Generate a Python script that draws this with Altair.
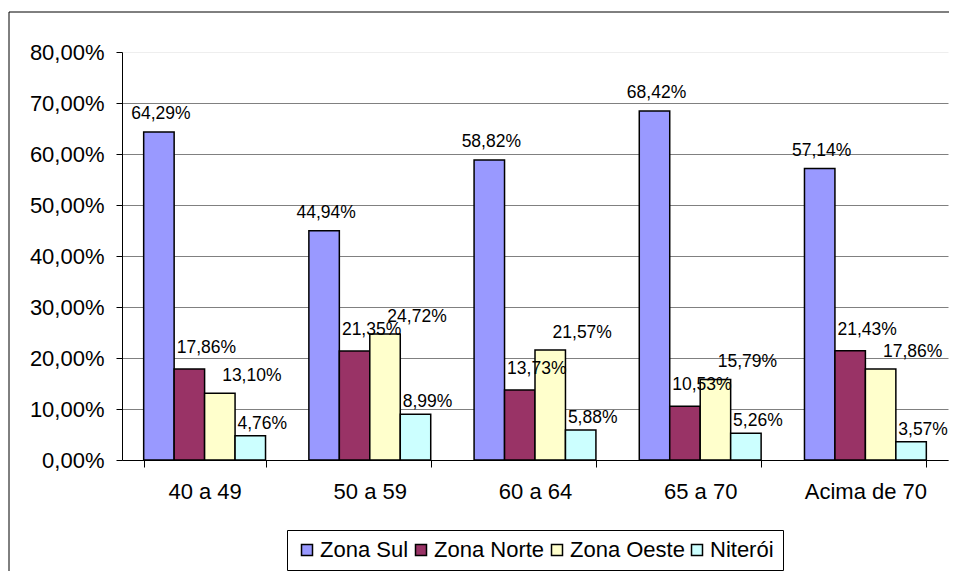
import altair as alt
import pandas as pd

# ---- data ----
categories = ["40 a 49", "50 a 59", "60 a 64", "65 a 70", "Acima de 70"]
series = ["Zona Sul", "Zona Norte", "Zona Oeste", "Niterói"]
zona_sul = [64.29, 44.94, 58.82, 68.42, 57.14]
zona_norte = [17.86, 21.35, 13.73, 10.53, 21.43]
zona_oeste = [13.10, 24.72, 21.57, 15.79, 17.86]
niteroi = [4.76, 8.99, 5.88, 5.26, 3.57]
y_ticks = [0, 10, 20, 30, 40, 50, 60, 70, 80]
colors = ["#9999FF", "#993366", "#FFFFCC", "#CCFFFF"]

rows = []
for s, vals in zip(series, [zona_sul, zona_norte, zona_oeste, niteroi]):
    for c, v in zip(categories, vals):
        rows.append({"faixa": c, "zona": s, "valor": v})
df = pd.DataFrame(rows)

FONT = "Liberation Sans"
W, H = 826, 408
PAD_R = 1

label_dx = {"Zona Sul": 2, "Zona Norte": 17, "Zona Oeste": 32, "Niterói": 12}
label_dy = {"Zona Sul": -18, "Zona Norte": -21, "Zona Oeste": -17, "Niterói": -12}

x_enc = alt.X(
    "faixa:N",
    sort=categories,
    scale=alt.Scale(domain=categories, paddingInner=0.2624, paddingOuter=0.1312),
    axis=alt.Axis(
        title=None, labelAngle=0, tickBand="extent", grid=False,
        domainColor="#000000", tickColor="#000000", tickSize=7,
        labelFont=FONT, labelFontSize=22, labelColor="#000000",
        labelBaseline="alphabetic", labelPadding=31,
    ),
)
xo_enc = alt.XOffset(
    "zona:N", sort=series,
    scale=alt.Scale(domain=series, paddingInner=0, paddingOuter=0),
)
y_enc = alt.Y(
    "valor:Q",
    scale=alt.Scale(domain=[0, 80], nice=False),
    axis=alt.Axis(
        title=None, values=y_ticks,
        labelExpr="replace(format(datum.value/100, '.2%'), '.', ',')",
        grid=True, gridWidth=1,
        gridColor={"condition": {"test": "datum.value >= 80", "value": "#eeeeee"},
                   "value": "#808080"},
        domainColor="#000000", tickColor="#000000", tickSize=6,
        labelFont=FONT, labelFontSize=22, labelColor="#000000", labelPadding=12,
    ),
)

one = pd.DataFrame({"k": [0]})
frame_top = alt.Chart(one).mark_rule(color="#000000", strokeWidth=1).encode(
    x=alt.value(-113), x2=alt.value(W + PAD_R), y=alt.value(-40),
)
frame_left = alt.Chart(one).mark_rule(color="#000000", strokeWidth=1).encode(
    x=alt.value(-113), y=alt.value(-40), y2=alt.value(H + 111),
)

bars = alt.Chart(df).mark_bar(stroke="#000000", strokeWidth=1.5).encode(
    x=x_enc,
    xOffset=xo_enc,
    y=y_enc,
    fill=alt.Fill(
        "zona:N", sort=series,
        scale=alt.Scale(domain=series, range=colors),
        legend=alt.Legend(
            title=None, orient="none", legendX=165, legendY=478,
            direction="horizontal", symbolType="square", symbolSize=121,
            symbolStrokeColor="#000000", symbolStrokeWidth=1.5, symbolOpacity=1,
            labelFont=FONT, labelFontSize=22, labelColor="#000000",
            labelOffset=2, columnPadding=1, padding=9,
            strokeColor="#000000", fillColor="#ffffff",
        ),
    ),
)

text_layers = []
for s in series:
    t = alt.Chart(df).transform_filter(
        alt.datum.zona == s
    ).transform_calculate(
        label="replace(format(datum.valor/100, '.2%'), '.', ',')"
    ).mark_text(
        dx=label_dx[s], dy=label_dy[s], font=FONT, fontSize=17.5,
        color="#000000", baseline="middle", align="center",
    ).encode(
        x=x_enc, xOffset=xo_enc, y=y_enc, text="label:N",
    )
    text_layers.append(t)

chart = alt.layer(frame_top, frame_left, bars, *text_layers).properties(
    width=W, height=H,
    padding={"left": 114, "top": 44, "right": PAD_R, "bottom": 111},
    autosize="none",
    background="#ffffff",
).configure_view(strokeWidth=0)

chart.save("out.html", embed_options={"renderer": "svg", "actions": False})
